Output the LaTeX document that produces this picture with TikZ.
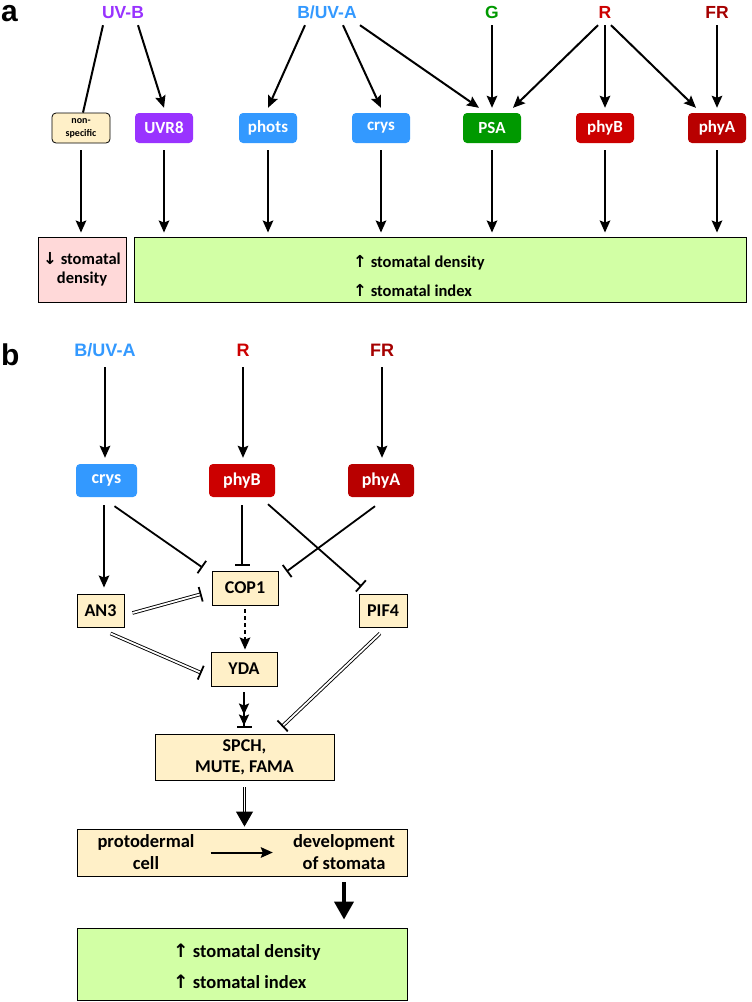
\documentclass[tikz,border=0pt]{standalone}
\usepackage{fontspec}
\setmainfont{Carlito}
\newfontfamily\arialf{Liberation Sans}
\newfontfamily\symf{DejaVu Sans}
\usetikzlibrary{arrows.meta}

\definecolor{uvbcol}{HTML}{9933FF}
\definecolor{bluecol}{HTML}{3399FF}
\definecolor{greencol}{HTML}{009900}
\definecolor{redcol}{HTML}{CC0000}
\definecolor{frcol}{HTML}{A50000}
\definecolor{phyacol}{HTML}{B80000}
\definecolor{creamcol}{HTML}{FFF0C8}
\definecolor{pinkcol}{HTML}{FFD9D9}
\definecolor{limecol}{HTML}{D2FFA5}

\newcommand{\upar}{{\symf ↑}}
\newcommand{\dnar}{{\symf ↓}}

\begin{document}
\begin{tikzpicture}[x=1pt,y=-1pt,
  panel/.style={font=\arialf\bfseries\fontsize{30}{32}\selectfont,inner sep=0pt,anchor=base west},
  lbl/.style={font=\arialf\bfseries\fontsize{17.5}{19}\selectfont,inner sep=0pt,text depth=0pt,anchor=base},
  lblb/.style={lbl,font=\arialf\bfseries\fontsize{18}{20}\selectfont},
  photo/.style={rectangle,rounded corners=4pt,minimum width=58pt,minimum height=30pt,text=white,font=\bfseries\fontsize{17}{18}\selectfont,inner sep=0pt},
  photob/.style={photo,minimum width=66pt,minimum height=33pt,font=\bfseries\fontsize{18}{20}\selectfont},
  gene/.style={rectangle,draw,line width=0.9pt,fill=creamcol,inner sep=0pt,align=center,font=\bfseries\fontsize{18}{21}\selectfont},
  txt/.style={inner sep=0pt,align=center,font=\bfseries\fontsize{18.5}{22}\selectfont},
  act/.style={line width=2pt,-{Stealth[length=12pt,width=10.5pt,inset=2pt]}},
  inh/.style={line width=1.8pt,-{Bar[width=15pt]}},
  dbl/.style={double,double distance=1.8pt,line width=0.9pt},
  dblinh/.style={dbl,-{Bar[width=15pt,line width=1.8pt]}},
]
\useasboundingbox (0,0) rectangle (752,1002);

% panel a
\node [panel] (alab) at (1,21) {a};
\node [lbl,text=uvbcol] (uvb) at (123,18) {UV-B};
\node [lbl,text=bluecol] (bua) at (327,18) {B/UV-A};
\node [lbl,text=greencol] (g) at (492,18) {G};
\node [lbl,text=redcol] (r) at (605,18) {R};
\node [lbl,text=frcol] (fr) at (717,18) {FR};

\node [photo,draw,fill=creamcol,text=black,line width=0.8pt,align=center,font=\bfseries\fontsize{10}{13}\selectfont] (nons) at (81,128) {non-\\specific};
\node [photo,fill=uvbcol] (uvr) at (164,128) {UVR8};
\node [photo,fill=bluecol] (phots) at (268,128) {phots};
\node [photo,fill=bluecol] (crys) at (381,128) {crys};
\node [photo,fill=greencol] (psa) at (492,128) {PSA};
\node [photo,fill=redcol] (phyb) at (605,128) {phyB};
\node [photo,fill=phyacol] (phya) at (717,128) {phyA};

\draw [line width=2pt] ([xshift=-20pt,yshift=-7pt]uvb.south) -- ([xshift=2pt]nons.north);
\draw [act] ([xshift=15pt,yshift=-7pt]uvb.south) -- ([yshift=5pt]uvr.north);
\draw [act] ([xshift=-22pt,yshift=-7pt]bua.south) -- ([yshift=5pt]phots.north);
\draw [act] ([xshift=16pt,yshift=-7pt]bua.south) -- ([yshift=5pt]crys.north);
\draw [act] ([xshift=33pt,yshift=-7pt]bua.south) -- ([xshift=-13pt,yshift=5pt]psa.north);
\draw [act] ([yshift=-7pt]g.south) -- ([yshift=5pt]psa.north);
\draw [act] ([xshift=-7pt,yshift=-7pt]r.south) -- ([xshift=21pt,yshift=5pt]psa.north);
\draw [act] ([yshift=-7pt]r.south) -- ([yshift=5pt]phyb.north);
\draw [act] ([xshift=6pt,yshift=-7pt]r.south) -- ([xshift=-21pt,yshift=5pt]phya.north);
\draw [act] ([yshift=-7pt]fr.south) -- ([yshift=5pt]phya.north);

\node [rectangle,draw,line width=0.9pt,fill=pinkcol,minimum width=88pt,minimum height=65pt,inner sep=0pt,align=center,font=\bfseries\fontsize{16.5}{19}\selectfont] (low) at (82,269.5) {\dnar\ stomatal\\density};
\node [rectangle,draw,line width=0.9pt,fill=limecol,minimum width=612pt,minimum height=65pt] (dens) at (440,269.5) {};
\node [inner sep=0pt,anchor=base west,font=\bfseries\fontsize{16.5}{19}\selectfont] (dens1) at (353,267) {\upar\ stomatal density};
\node [inner sep=0pt,anchor=base west,font=\bfseries\fontsize{16.5}{19}\selectfont] (dens2) at (353,296) {\upar\ stomatal index};

\draw [act] ([yshift=-7pt]nons.south) -- ([yshift=4pt]nons.south |- low.north);
\foreach \n in {uvr,phots,crys,psa,phyb,phya}
  \draw [act] ([yshift=-7pt]\n.south) -- ([yshift=4pt]\n.south |- dens.north);

% panel b
\node [panel] (blab) at (1,365) {b};
\node [lblb,text=bluecol] (bub) at (105,356) {B/UV-A};
\node [lblb,text=redcol] (rb) at (243,356) {R};
\node [lblb,text=frcol] (frb) at (382,356) {FR};

\node [photob,fill=bluecol,minimum width=61pt] (crysb) at (106.5,480.5) {crys};
\node [photob,fill=redcol] (phybb) at (242,480.5) {phyB};
\node [photob,fill=phyacol] (phyab) at (381,480.5) {phyA};

\draw [act] ([yshift=-11pt]bub.south) -- ([yshift=6pt]bub.south |- crysb.north);
\draw [act] ([yshift=-11pt]rb.south) -- ([yshift=6pt]rb.south |- phybb.north);
\draw [act] ([yshift=-11pt]frb.south) -- ([yshift=6pt]frb.south |- phyab.north);

\node [gene,minimum width=66pt,minimum height=34pt] (cop) at (245,588) {COP1};
\node [gene,minimum width=47pt,minimum height=33pt] (an3) at (100.5,610.5) {AN3};
\node [gene,minimum width=48pt,minimum height=33pt] (pif) at (383,610.5) {PIF4};
\node [gene,minimum width=66pt,minimum height=34pt] (yda) at (244,669) {YDA};
\node [gene,minimum width=179pt,minimum height=46pt] (spch) at (244.5,757) {SPCH,\\MUTE, FAMA};
\node [gene,minimum width=330pt,minimum height=47pt] (pbox) at (242,852.5) {};
\node [txt] (prot) at (146,852.5) {protodermal\\cell};
\node [txt] (dev) at (344,852.5) {development\\of stomata};
\node [rectangle,draw,line width=0.9pt,fill=limecol,minimum width=330pt,minimum height=72pt] (gb) at (242,964) {};
\node [inner sep=0pt,anchor=base west,font=\bfseries\fontsize{18.5}{21}\selectfont] (gb1) at (173,957) {\upar\ stomatal density};
\node [inner sep=0pt,anchor=base west,font=\bfseries\fontsize{18.5}{21}\selectfont] (gb2) at (173,988) {\upar\ stomatal index};

\draw [act] ([xshift=-2.5pt,yshift=-8pt]crysb.south) -- ([xshift=-2.5pt,yshift=6pt]crysb.south |- an3.north);
\draw [inh] ([xshift=8pt,yshift=-9pt]crysb.south) -- ([xshift=-9pt,yshift=3pt]cop.north west);
\draw [inh] ([yshift=-8pt]phybb.south) -- ([yshift=5pt]phybb.south |- cop.north);
\draw [inh] ([xshift=26pt,yshift=-7pt]phybb.south) -- ([xshift=3pt,yshift=7pt]pif.north west);
\draw [inh] ([xshift=-6pt,yshift=-9pt]phyab.south) -- ([xshift=8pt,yshift=-1pt]cop.north east);

\draw [dblinh] ([xshift=8pt,yshift=-2.5pt]an3.east) -- ([xshift=-10pt,yshift=-6pt]cop.west);
\draw [dblinh] ([xshift=10pt,yshift=-6pt]an3.south) -- ([xshift=-9pt,yshift=-4pt]yda.west);
\draw [dblinh] ([xshift=-3pt,yshift=-6pt]pif.south) -- ([xshift=37.5pt,yshift=7pt]spch.north);

\draw [act,dashed,dash pattern=on 4pt off 3pt] ([yshift=-4pt]cop.south) -- ([yshift=2pt]cop.south |- yda.north);
\draw [line width=2pt,-{Stealth[length=11pt,width=10pt,inset=2pt] Stealth[length=11pt,width=10pt,inset=2pt] Bar[width=15pt]}] ([yshift=-6pt]yda.south) -- ([yshift=6pt]yda.south |- spch.north);
\draw [dbl,-{Triangle[length=15pt,width=17pt]}] ([yshift=-7pt]spch.south) -- ([yshift=2pt]spch.south |- pbox.north);
\draw [act] (prot.east) [shorten <=16pt,shorten >=20pt] -- (dev.west);
\draw [line width=4pt,-{Triangle[length=18pt,width=19pt]}] ([yshift=-6pt]dev.south |- pbox.south) -- ([yshift=8pt]dev.south |- gb.north);
\end{tikzpicture}
\end{document}
